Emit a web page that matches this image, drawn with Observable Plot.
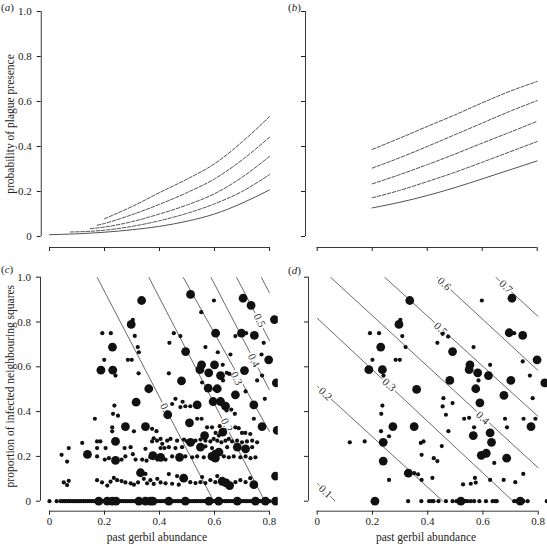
<!DOCTYPE html>
<html><head><meta charset="utf-8">
<script src="https://cdn.jsdelivr.net/npm/d3@7"></script>
<script src="https://cdn.jsdelivr.net/npm/@observablehq/plot@0.6"></script>
<style>
body{margin:0;background:#fff;}
#wrap{position:relative;width:547px;height:544px;overflow:hidden;font-family:"Liberation Serif","Times New Roman",serif;color:#222;}
#wrap svg text{font-family:"Liberation Serif","Times New Roman",serif;}
.tag{position:absolute;font-size:11px;line-height:13px;font-family:"Liberation Serif","Times New Roman",serif;color:#222;}
</style></head><body><div id="wrap"></div>
<script>
// ---------- data ----------
const xTicks = [0, 0.2, 0.4, 0.6, 0.8];
const yTicks = [0, 0.2, 0.4, 0.6, 0.8, 1.0];
const xTitle = "past gerbil abundance";
const yTitleTop = "probability of plague presence";
const yTitleBottom = "proportion of infected neighbouring squares";
const panelTags = ["a", "b", "c", "d"];

// (a) probability curves: solid first, then dashed
const aSolid = [[0,0.008],[0.1,0.012],[0.2,0.019],[0.3,0.03],[0.4,0.045],[0.5,0.068],[0.6,0.1],[0.7,0.148],[0.8,0.207]];
const aDash1 = [[0.076,0.02],[0.2,0.028],[0.3,0.045],[0.4,0.07],[0.5,0.103],[0.6,0.145],[0.7,0.2],[0.8,0.275]];
const aDash2 = [[0.149,0.035],[0.2,0.042],[0.3,0.066],[0.4,0.1],[0.5,0.14],[0.6,0.19],[0.7,0.263],[0.8,0.356]];
const aDash3 = [[0.173,0.05],[0.2,0.058],[0.3,0.097],[0.4,0.143],[0.5,0.195],[0.6,0.256],[0.7,0.34],[0.8,0.441]];
const aDash4 = [[0.2,0.079],[0.3,0.133],[0.4,0.195],[0.5,0.255],[0.6,0.323],[0.7,0.42],[0.8,0.533]];

// (b)
const bSolid = [[0.2,0.127],[0.3,0.152],[0.4,0.182],[0.5,0.217],[0.6,0.256],[0.7,0.296],[0.8,0.336]];
const bDash1 = [[0.2,0.172],[0.3,0.205],[0.4,0.244],[0.5,0.285],[0.6,0.33],[0.7,0.376],[0.8,0.422]];
const bDash2 = [[0.2,0.234],[0.3,0.275],[0.4,0.319],[0.5,0.366],[0.6,0.415],[0.7,0.463],[0.8,0.512]];
const bDash3 = [[0.2,0.304],[0.3,0.35],[0.4,0.4],[0.5,0.452],[0.6,0.504],[0.7,0.556],[0.8,0.604]];
const bDash4 = [[0.2,0.387],[0.3,0.437],[0.4,0.489],[0.5,0.54],[0.6,0.594],[0.7,0.645],[0.8,0.689]];

// (c) contour lines [x1,y1,x2,y2] and labels [x,y,text]
const cContours = [[0.173,1,0.597,0],[0.361,1,0.783,0],[0.486,1,0.8,0.31],[0.587,1,0.8,0.496],[0.68,1,0.8,0.716],[0.77,1,0.8,0.93]];
const cLabels = [[0.424,0.407,"0.1"],[0.645,0.34,"0.2"],[0.68,0.548,"0.3"],[0.743,0.628,"0.4"],[0.764,0.807,"0.5"]];
const cBig = [
[0.513,0.923],[0.335,0.896],[0.704,0.906],[0.733,0.874],[0.818,0.811],[0.297,0.789],
[0.604,0.75],[0.698,0.75],[0.745,0.74],[0.229,0.688],[0.495,0.668],[0.797,0.631],
[0.187,0.585],[0.23,0.585],[0.553,0.609],[0.547,0.587],[0.579,0.573],[0.6,0.609],[0.622,0.561],[0.709,0.583],
[0.48,0.537],[0.825,0.528],[0.361,0.502],[0.577,0.505],[0.61,0.502],
[0.676,0.475],[0.743,0.43],[0.595,0.445],[0.622,0.445],[0.537,0.43],[0.64,0.424],[0.43,0.386],[0.315,0.442],
[0.509,0.35],[0.276,0.333],[0.349,0.333],[0.773,0.333],[0.828,0.316],[0.564,0.293],[0.63,0.308],
[0.24,0.267],[0.513,0.263],[0.549,0.241],[0.683,0.241],[0.713,0.234],
[0.138,0.209],[0.24,0.182],[0.376,0.203],[0.404,0.196],[0.473,0.196],[0.591,0.2],[0.603,0.21],[0.616,0.219],[0.603,0.192],
[0.331,0.127],[0.488,0.103],[0.628,0.089],[0.642,0.082],[0.655,0.07],[0.743,0.074],[0.822,0.112],
[0.179,0],[0.21,0],[0.228,0],[0.242,0],[0.325,0],[0.349,0],[0.367,0],[0.376,0],[0.434,0],[0.494,0],[0.58,0],[0.615,0],[0.683,0],[0.749,0],[0.785,0],[0.822,0]
];
const cSmall = [
[0.303,0.81],[0.192,0.75],[0.223,0.75],[0.31,0.738],[0.321,0.688],[0.325,0.665],[0.199,0.631],[0.285,0.631],[0.299,0.631],[0.24,0.561],[0.324,0.571],[0.436,0.707],[0.434,0.571],
[0.598,0.896],[0.552,0.844],[0.452,0.75],[0.476,0.737],[0.676,0.737],[0.715,0.75],[0.567,0.688],[0.779,0.707],[0.612,0.665],[0.658,0.655],[0.771,0.655],[0.63,0.609],[0.645,0.573],[0.654,0.568],[0.773,0.561],[0.755,0.539],[0.555,0.53],[0.631,0.539],
[0.236,0.427],[0.231,0.39],[0.249,0.382],[0.165,0.368],[0.228,0.33],[0.228,0.312],[0.307,0.312],[0.373,0.323],[0.389,0.3125],[0.379,0.281],[0.404,0.278],
[0.119,0.26],[0.173,0.267],[0.185,0.267],[0.234,0.27],[0.373,0.267],[0.391,0.27],[0.41,0.256],
[0.07,0.237],[0.173,0.237],[0.204,0.237],[0.273,0.237],[0.295,0.241],[0.349,0.234],[0.404,0.237],[0.418,0.237],
[0.044,0.207],[0.064,0.177],[0.173,0.2],[0.201,0.186],[0.216,0.192],[0.262,0.186],[0.276,0.2],[0.303,0.21],[0.313,0.186],[0.337,0.186],[0.353,0.181],[0.367,0.196],[0.392,0.186],[0.422,0.186],
[0.349,0.122],
[0.052,0.084],[0.07,0.091],[0.064,0.072],[0.173,0.094],[0.191,0.084],[0.21,0.07],[0.222,0.087],[0.234,0.104],[0.246,0.094],[0.262,0.09],[0.276,0.084],[0.295,0.08],[0.307,0.074],[0.322,0.084],[0.343,0.1],[0.355,0.08],[0.367,0.094],[0.379,0.077],[0.392,0.1],[0.404,0.084],[0.422,0.08],
[0.6,0.5],[0.613,0.5],[0.713,0.49],[0.458,0.457],[0.783,0.457],[0.484,0.444],[0.446,0.434],[0.476,0.42],[0.494,0.424],[0.512,0.424],[0.644,0.405],[0.661,0.409],[0.674,0.39],[0.537,0.368],[0.553,0.368],[0.743,0.368],
[0.573,0.33],[0.591,0.33],[0.619,0.335],[0.676,0.33],[0.688,0.326],[0.604,0.305],[0.616,0.293],[0.7,0.305],[0.712,0.305],[0.73,0.3],
[0.428,0.27],[0.44,0.278],[0.464,0.27],[0.489,0.275],[0.5,0.267],[0.531,0.27],[0.549,0.275],[0.567,0.27],[0.585,0.267],[0.597,0.278],[0.61,0.27],[0.625,0.263],[0.64,0.27],[0.652,0.278],[0.664,0.267],[0.682,0.27],[0.7,0.263],[0.718,0.267],[0.737,0.27],[0.755,0.263],
[0.434,0.241],[0.458,0.237],[0.482,0.241],[0.567,0.245],[0.591,0.237],[0.646,0.241],[0.737,0.241],
[0.446,0.2],[0.494,0.2],[0.519,0.196],[0.537,0.2],[0.561,0.196],[0.634,0.2],[0.652,0.196],[0.67,0.2],[0.694,0.196],[0.713,0.2],[0.731,0.192],[0.749,0.196],
[0.434,0.121],[0.464,0.112],[0.512,0.085],[0.531,0.081],[0.549,0.085],[0.567,0.081],[0.585,0.094],[0.603,0.085],[0.676,0.085],[0.694,0.094],[0.713,0.085],[0.73,0.103],[0.446,0.078],[0.47,0.074],[0.555,0.108],[0.61,0.112]
];
const cZeroRowX = [0,0.026,0.04,0.048,0.055,0.062,0.07,0.077,0.085,0.092,0.1,0.108,0.115,0.123,0.13,0.138,0.146,0.153,0.161,0.168,0.176,0.184,0.192,0.2,0.207,0.215,0.223,0.23,0.238,0.246,0.254,0.262,0.27,0.278,0.285,0.293,0.3,0.308,0.316,0.324,0.332,0.34,0.347,0.355,0.362,0.37,0.378,0.386,0.394,0.402,0.41,0.418,0.425,0.433,0.441,0.449,0.457,0.465,0.472,0.48,0.488,0.496,0.503,0.511,0.519,0.527,0.535,0.542,0.55,0.558,0.566,0.573,0.581,0.589,0.597,0.604,0.612,0.62,0.628,0.636,0.643,0.651,0.659,0.667,0.675,0.682,0.69,0.698,0.706,0.714,0.721,0.729,0.737,0.745,0.752,0.76,0.768,0.776,0.784,0.792,0.8];

// (d)
const dContours = [[0,0.08,0.065,0],[0,0.513,0.455,0],[0,0.817,0.709,0],[0.048,1,0.8,0.149],[0.244,1,0.8,0.378],[0.434,1,0.8,0.583],[0.646,1,0.8,0.824]];
const dLabels = [[0.03,0.043,"0.1"],[0.03,0.479,"0.2"],[0.26,0.52,"0.3"],[0.599,0.372,"0.4"],[0.447,0.769,"0.5"],[0.46,0.97,"0.6"],[0.683,0.958,"0.7"]];
const dBig = [
[0.335,0.896],[0.705,0.906],[0.296,0.789],[0.23,0.688],[0.49,0.668],[0.553,0.609],[0.55,0.587],[0.581,0.573],[0.62,0.561],[0.187,0.587],[0.236,0.587],[0.48,0.539],[0.574,0.502],[0.701,0.539],[0.695,0.752],[0.744,0.74],[0.796,0.631],[0.824,0.528],[0.36,0.499],
[0.589,0.439],[0.676,0.472],[0.274,0.333],[0.351,0.333],[0.239,0.263],[0.239,0.179],[0.565,0.293],[0.626,0.305],[0.631,0.263],[0.774,0.333],[0.594,0.205],[0.612,0.214],[0.686,0.192],[0.33,0.125],[0.209,0],[0.52,0],[0.735,0]
];
const dSmall = [
[0.596,0.896],[0.301,0.81],[0.191,0.75],[0.224,0.75],[0.308,0.737],[0.32,0.688],[0.454,0.747],[0.474,0.735],[0.435,0.707],[0.566,0.688],[0.2,0.631],[0.284,0.631],[0.299,0.631],[0.24,0.561],[0.626,0.609],[0.584,0.539],[0.744,0.624],[0.77,0.561],[0.713,0.75],
[0.236,0.427],[0.232,0.39],[0.457,0.46],[0.454,0.423],[0.49,0.438],[0.466,0.386],[0.78,0.46],[0.532,0.368],[0.55,0.372],[0.68,0.368],[0.687,0.33],[0.747,0.368],[0.79,0.368],[0.568,0.33],[0.475,0.3125],[0.231,0.3125],[0.26,0.29],[0.118,0.263],[0.172,0.267],[0.375,0.26],[0.385,0.267],[0.451,0.246],[0.378,0.207],[0.422,0.192],[0.435,0.179],[0.641,0.171],[0.351,0.125],[0.365,0.12],[0.26,0.095],[0.378,0.095],[0.417,0.104],[0.528,0.075],[0.556,0.078],[0.574,0.083],[0.571,0.104],[0.626,0.095],[0.675,0.095],[0.717,0.085],[0.746,0.122]
];
const dZeroRowX = [0.329,0.377,0.405,0.415,0.421,0.439,0.466,0.49,0.504,0.509,0.533,0.536,0.544,0.556,0.568,0.587,0.611,0.635,0.645,0.65,0.713,0.722,0.747,0.762,0.831];

// ---------- drawing ----------
const INK = "#222";
const FONT = "Liberation Serif, Times New Roman, serif";
const fmt = d => d === 0 ? "0" : d.toFixed(1);
const px = d => d[0], py = d => d[1];

function panel(cfg) {
  const {xlo, xhi, ylo, yhi, ml, mr, mt, mb, xLab, yLab, marks, yTitle, yTitleDy, xTitle, xTitleDx} = cfg;
  const extra = [];
  if (yTitle) extra.push(Plot.text([yTitle], {text: d => d, frameAnchor: "left", textAnchor: "middle", lineAnchor: "middle",
    dx: -(ml - 10), dy: yTitleDy || 0, rotate: -90, fontSize: 11.5, fontFamily: FONT, fill: INK}));
  if (xTitle) extra.push(Plot.text([xTitle], {text: d => d, frameAnchor: "bottom", textAnchor: "middle", lineAnchor: "middle",
    dy: 26.5, dx: xTitleDx || 0, fontSize: 11.5, fontFamily: FONT, fill: INK}));
  const svg = Plot.plot({
    width: 547, height: 544,
    marginLeft: ml, marginRight: mr, marginTop: mt, marginBottom: mb,
    style: {background: "transparent", fontFamily: FONT, fontSize: "11px", color: INK, overflow: "visible"},
    x: {domain: [xlo, xhi], ticks: xTicks, tickSize: 4, tickPadding: 2, tickFormat: xLab ? fmt : () => "", label: null},
    y: {domain: [ylo, yhi], ticks: yTicks, tickSize: 4, tickPadding: 5.5, tickFormat: yLab ? fmt : () => "", label: null},
    marks: [
      ...marks,
      Plot.ruleX([xlo], {y1: yTicks[0], y2: yTicks[yTicks.length - 1], stroke: INK, strokeWidth: 0.9}),
      Plot.ruleY([ylo], {x1: xTicks[0], x2: xTicks[xTicks.length - 1], stroke: INK, strokeWidth: 0.9}),
      ...extra
    ]
  });
  svg.setAttribute("font-family", FONT);
  svg.style.position = "absolute";
  svg.style.left = "0px";
  svg.style.top = "0px";
  return svg;
}

const lineOpts = (dash) => ({x: px, y: py, stroke: "#333", strokeWidth: 0.85, strokeDasharray: dash, curve: "monotone-x"});
const DASH = "3.6,1.6";
function curveMarks(solid, dashed) {
  return [Plot.line(solid, lineOpts(null)), ...dashed.map(s => Plot.line(s, lineOpts(DASH)))];
}
function scatterMarks(contours, labels, angle, small, big, zeroX) {
  return [
    Plot.link(contours, {x1: d => d[0], y1: d => d[1], x2: d => d[2], y2: d => d[3], stroke: "#444", strokeWidth: 0.8}),
    Plot.text(labels, {x: px, y: py, text: d => d[2], rotate: angle, fontSize: 11, fontFamily: FONT, fill: "#333", stroke: "white", strokeWidth: 4}),
    Plot.dot(zeroX, {x: d => d, y: () => 0, r: 2.1, fill: "#111", stroke: null, clip: true}),
    Plot.dot(small, {x: px, y: py, r: 2.1, fill: "#111", stroke: null, clip: true}),
    Plot.dot(big, {x: px, y: py, r: 4.4, fill: "#111", stroke: null, clip: true})
  ];
}

const wrap = document.getElementById("wrap");
wrap.appendChild(panel({xlo: -0.03, xhi: 0.832, ylo: -0.0489, yhi: 1.0489, ml: 40.75, mr: 269.2, mt: 0, mb: 297,
  xLab: false, yLab: true, yTitle: yTitleTop, marks: curveMarks(aSolid, [aDash1, aDash2, aDash3, aDash4])}));
wrap.appendChild(panel({xlo: -0.0425, xhi: 0.8375, ylo: -0.0489, yhi: 1.0489, ml: 305, mr: 0, mt: 0, mb: 297,
  xLab: false, yLab: false, marks: curveMarks(bSolid, [bDash1, bDash2, bDash3, bDash4])}));
wrap.appendChild(panel({xlo: -0.0327, xhi: 0.832, ylo: -0.0446, yhi: 1.0446, ml: 40, mr: 269.2, mt: 266.7, mb: 33.3,
  xLab: true, yLab: true, yTitle: yTitleBottom, yTitleDy: -3, xTitle: xTitle, xTitleDx: -2.5,
  marks: scatterMarks(cContours, cLabels, 62.6, cSmall, cBig, cZeroRowX)}));
wrap.appendChild(panel({xlo: -0.0315, xhi: 0.8337, ylo: -0.0446, yhi: 1.0446, ml: 308, mr: 0, mt: 266.7, mb: 33.3,
  xLab: true, yLab: false, xTitle: xTitle, xTitleDx: -2,
  marks: scatterMarks(dContours, dLabels, 42.7, dSmall, dBig, dZeroRowX)}));

// panel tags
const tagPos = [[1, 1], [288, 1], [1, 263], [288, 264]];
panelTags.forEach((t, i) => {
  const el = document.createElement("div");
  el.className = "tag";
  el.style.left = tagPos[i][0] + "px";
  el.style.top = tagPos[i][1] + "px";
  el.innerHTML = "(<i>" + t + "</i>)";
  wrap.appendChild(el);
});
</script></body></html>
